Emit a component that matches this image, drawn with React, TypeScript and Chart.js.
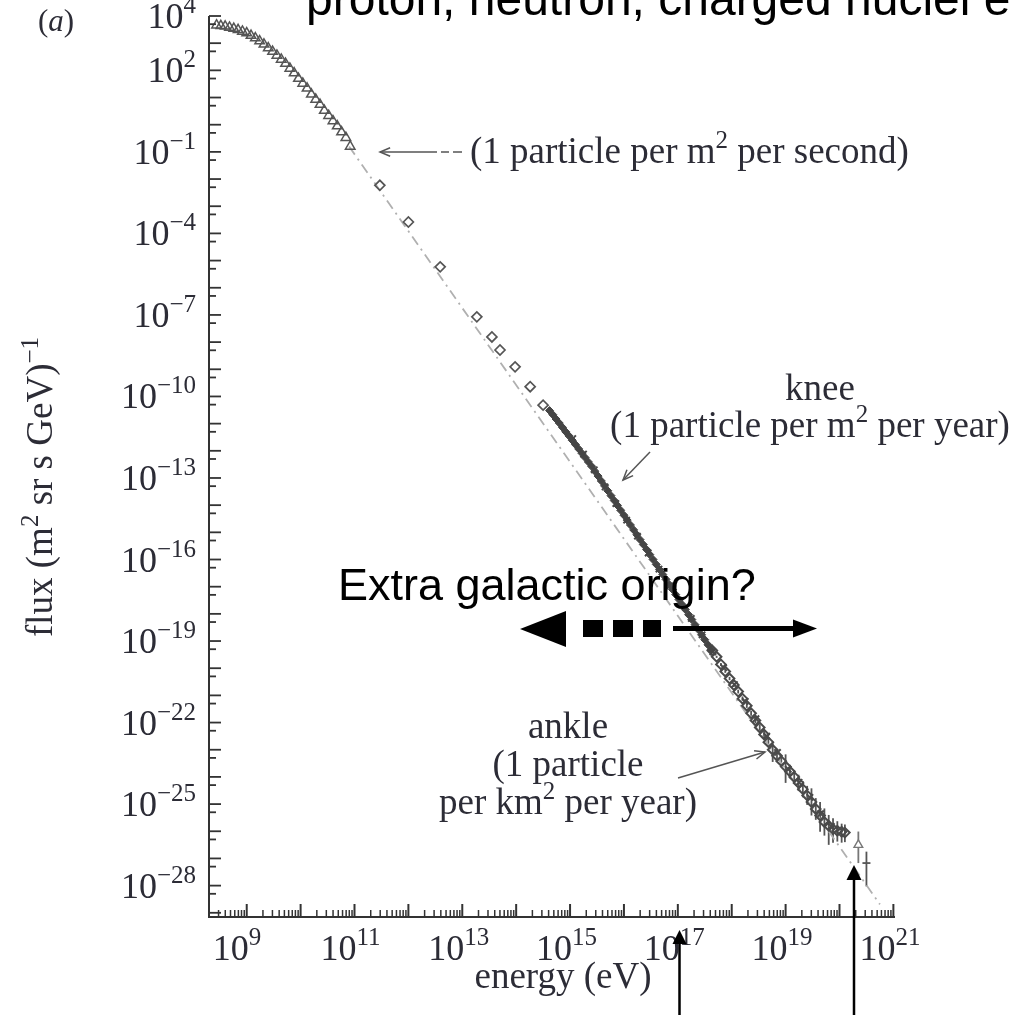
import React, { useEffect, useRef } from "react";
import { Chart, registerables } from "chart.js";

Chart.register(...registerables);

// ---- data (log10 of energy in eV, log10 of flux) ----
const triangleLogE = [8.44, 8.52, 8.6, 8.68, 8.76, 8.84, 8.92, 9.0, 9.08, 9.16, 9.24, 9.32, 9.4, 9.48, 9.56, 9.64, 9.72, 9.8, 9.88, 9.96, 10.04, 10.12, 10.2, 10.28, 10.36, 10.44, 10.52, 10.6, 10.68, 10.76, 10.84, 10.92];
const triangleLogFlux = [3.66, 3.64, 3.62, 3.58, 3.54, 3.49, 3.43, 3.37, 3.28, 3.19, 3.08, 2.96, 2.82, 2.69, 2.55, 2.4, 2.25, 2.07, 1.9, 1.7, 1.52, 1.34, 1.12, 0.93, 0.74, 0.52, 0.33, 0.14, -0.05, -0.27, -0.48, -0.8];

const diamondLogE = [11.47, 12.0, 12.59, 13.27, 13.55, 13.7, 13.98, 14.26, 14.5];
const diamondLogFlux = [-2.23, -3.58, -5.23, -7.07, -7.81, -8.29, -8.91, -9.64, -10.32];

const kneeLogE = [14.62, 14.68, 14.74, 14.8, 14.86, 14.92, 14.98, 15.04, 15.1, 15.16, 15.22, 15.28, 15.34, 15.4, 15.46, 15.52, 15.58, 15.64, 15.7, 15.76, 15.82, 15.88, 15.94, 16.0, 16.06, 16.12, 16.18, 16.24, 16.3, 16.36, 16.42, 16.48, 16.54, 16.6, 16.66, 16.72, 16.78, 16.84, 16.9, 16.96, 17.02, 17.08, 17.14, 17.2, 17.26, 17.32, 17.38, 17.44, 17.5, 17.56, 17.62];
const kneeLogFlux = [-10.52, -10.67, -10.83, -10.98, -11.14, -11.3, -11.45, -11.61, -11.77, -11.93, -12.09, -12.25, -12.41, -12.57, -12.75, -12.93, -13.11, -13.29, -13.47, -13.65, -13.83, -14.01, -14.19, -14.37, -14.55, -14.73, -14.91, -15.09, -15.27, -15.45, -15.63, -15.82, -16.0, -16.18, -16.37, -16.55, -16.73, -16.92, -17.1, -17.29, -17.47, -17.66, -17.84, -18.03, -18.21, -18.4, -18.58, -18.77, -18.95, -19.14, -19.32];

const showerLogE = [15.05, 15.25, 15.45, 15.65, 15.85, 16.05, 16.25, 16.45, 16.65, 16.85, 17.05, 17.25, 17.45, 17.65, 17.85, 18.05, 18.25, 18.45, 18.65, 18.85, 19.05, 19.25, 19.45, 19.65, 19.85];
const showerLogFlux = [-11.55, -12.12, -12.7, -13.33, -13.94, -14.55, -15.14, -15.76, -16.35, -16.97, -17.55, -18.17, -18.77, -19.4, -19.98, -20.6, -21.22, -21.86, -22.5, -23.1, -23.72, -24.2, -24.75, -25.35, -25.82];

const uheLogE = [17.64, 17.72, 17.8, 17.88, 17.96, 18.04, 18.12, 18.2, 18.28, 18.36, 18.44, 18.52, 18.6, 18.68, 18.76, 18.84, 18.92, 19.0, 19.08, 19.16, 19.24, 19.32, 19.4, 19.48, 19.56, 19.64, 19.72, 19.8, 19.88, 19.96, 20.04, 20.1];
const uheLogFlux = [-19.35, -19.58, -19.86, -20.12, -20.38, -20.62, -20.86, -21.12, -21.38, -21.66, -21.92, -22.18, -22.44, -22.72, -23.0, -23.22, -23.42, -23.62, -23.8, -24.0, -24.22, -24.45, -24.68, -24.92, -25.18, -25.42, -25.66, -25.8, -25.92, -25.98, -26.02, -26.05];
const uheErrDown = [0.04, 0.04, 0.05, 0.05, 0.06, 0.07, 0.07, 0.08, 0.08, 0.09, 0.1, 0.12, 0.14, 0.16, 0.45, 0.2, 0.2, 0.6, 0.25, 0.25, 0.3, 0.3, 0.35, 0.5, 0.4, 0.6, 0.5, 0.7, 0.5, 0.4, 0.4, 0.35];
const uheErrUp = [0.04, 0.04, 0.05, 0.05, 0.06, 0.07, 0.07, 0.08, 0.08, 0.09, 0.1, 0.12, 0.14, 0.16, 0.3, 0.2, 0.2, 0.45, 0.25, 0.25, 0.3, 0.3, 0.35, 0.5, 0.4, 0.5, 0.5, 0.4, 0.4, 0.35, 0.3, 0.3];

const topTriangleLogE = [20.35];
const topTriangleLogFlux = [-26.5];
const topTriangleErrDown = [0.67];
const topTriangleErrUp = [0.49];

const topBarLogE = [20.5];
const topBarLogFlux = [-27.17];
const topBarErrDown = [0.86];
const topBarErrUp = [0.42];

const fitLogE = [10.9, 20.75];
const fitLogFlux = [-0.8, -28.69];

// ---- axes ----
const xMinExp = 8.3;
const xMaxExp = 21.03;
const yMinExp = -29.14;
const yMaxExp = 4;
const yTickLabelExps = [4, 2, -1, -4, -7, -10, -13, -16, -19, -22, -25, -28];
const xTickLabelExps = [9, 11, 13, 15, 17, 19, 21];

const SERIF = '"Liberation Serif", "DejaVu Serif", serif';
const SANS = '"Liberation Sans", Arial, sans-serif';
const TEXT_COLOR = "#2c2c36";
const MARK = "#555555";

const pts = (le: number[], lf: number[]) =>
  le.map((e, i) => ({ x: Math.pow(10, e), y: Math.pow(10, lf[i]) }));

const expStr = (n: number) => (n < 0 ? "\u2212" + Math.abs(n) : String(n));

type Part = { t: string; size: number; dy?: number; italic?: boolean; family?: string };

function fontOf(p: Part) {
  return `${p.italic ? "italic " : ""}${p.size}px ${p.family || SERIF}`;
}
function richWidth(ctx: CanvasRenderingContext2D, parts: Part[]) {
  let w = 0;
  for (const p of parts) {
    ctx.font = fontOf(p);
    w += ctx.measureText(p.t).width;
  }
  return w;
}
function drawRich(ctx: CanvasRenderingContext2D, parts: Part[], x: number, y: number, align: "left" | "center" | "right") {
  const w = richWidth(ctx, parts);
  let cx = align === "center" ? x - w / 2 : align === "right" ? x - w : x;
  ctx.textAlign = "left";
  ctx.textBaseline = "alphabetic";
  for (const p of parts) {
    ctx.font = fontOf(p);
    ctx.fillText(p.t, cx, y + (p.dy || 0));
    cx += ctx.measureText(p.t).width;
  }
}

function openArrow(ctx: CanvasRenderingContext2D, x1: number, y1: number, x2: number, y2: number) {
  ctx.beginPath();
  ctx.moveTo(x1, y1);
  ctx.lineTo(x2, y2);
  ctx.stroke();
  const a = Math.atan2(y2 - y1, x2 - x1);
  const L = 11;
  const s = 0.4;
  ctx.beginPath();
  ctx.moveTo(x2 - L * Math.cos(a - s), y2 - L * Math.sin(a - s));
  ctx.lineTo(x2, y2);
  ctx.lineTo(x2 - L * Math.cos(a + s), y2 - L * Math.sin(a + s));
  ctx.stroke();
}

function filledHead(ctx: CanvasRenderingContext2D, tipX: number, tipY: number, baseX: number, baseY: number, half: number) {
  const a = Math.atan2(tipY - baseY, tipX - baseX);
  const nx = -Math.sin(a);
  const ny = Math.cos(a);
  ctx.beginPath();
  ctx.moveTo(tipX, tipY);
  ctx.lineTo(baseX + nx * half, baseY + ny * half);
  ctx.lineTo(baseX - nx * half, baseY - ny * half);
  ctx.closePath();
  ctx.fill();
}

const errorBarPlugin = {
  id: "errorBars",
  beforeDatasetsDraw(chart: any) {
    const { ctx } = chart;
    const xs = chart.scales.x;
    const ys = chart.scales.y;
    ctx.save();
    chart.data.datasets.forEach((ds: any) => {
      if (!ds.errDown) return;
      ctx.strokeStyle = ds.errColor || MARK;
      ctx.lineWidth = 1.8;
      ds.logE.forEach((e: number, i: number) => {
        const px = xs.getPixelForValue(Math.pow(10, e));
        const y1 = ys.getPixelForValue(Math.pow(10, ds.logF[i] - ds.errDown[i]));
        const y2 = ys.getPixelForValue(Math.pow(10, ds.logF[i] + ds.errUp[i]));
        ctx.beginPath();
        ctx.moveTo(px, y1);
        ctx.lineTo(px, y2);
        ctx.stroke();
      });
    });
    ctx.restore();
  },
};

const decorPlugin = {
  id: "decor",
  afterDraw(chart: any) {
    const { ctx, chartArea } = chart;
    const { left, right, top, bottom } = chartArea;
    const xs = chart.scales.x;
    const ys = chart.scales.y;
    ctx.save();

    // axis lines
    ctx.strokeStyle = "#333";
    ctx.lineWidth = 2;
    ctx.beginPath();
    ctx.moveTo(left, top);
    ctx.lineTo(left, bottom);
    ctx.lineTo(right, bottom);
    ctx.stroke();

    // y ticks (decades long, half-decade short)
    ctx.lineWidth = 1.8;
    for (let n = Math.ceil(yMinExp); n <= Math.floor(yMaxExp); n++) {
      const py = ys.getPixelForValue(Math.pow(10, n));
      ctx.beginPath();
      ctx.moveTo(left, py);
      ctx.lineTo(left + 12, py);
      ctx.stroke();
      const v = 5 * Math.pow(10, n - 1);
      if (Math.log10(v) >= yMinExp) {
        const pm = ys.getPixelForValue(v);
        ctx.beginPath();
        ctx.moveTo(left, pm);
        ctx.lineTo(left + 7, pm);
        ctx.stroke();
      }
    }
    // x ticks
    for (let n = Math.floor(xMinExp); n <= Math.floor(xMaxExp); n++) {
      for (let k = 1; k <= 9; k++) {
        const lv = n + Math.log10(k);
        if (lv < xMinExp - 1e-6 || lv > xMaxExp) continue;
        const px = xs.getPixelForValue(k * Math.pow(10, n));
        ctx.lineWidth = k === 1 ? 2 : 1.5;
        ctx.beginPath();
        ctx.moveTo(px, bottom);
        ctx.lineTo(px, bottom - (k === 1 ? 13 : 7));
        ctx.stroke();
      }
    }

    ctx.fillStyle = TEXT_COLOR;
    // y tick labels
    for (const n of yTickLabelExps) {
      const py = ys.getPixelForValue(Math.pow(10, n));
      drawRich(ctx, [
        { t: "10", size: 36 },
        { t: expStr(n), size: 25, dy: -15 },
      ], 196, py + 12, "right");
    }
    // x tick labels
    for (const n of xTickLabelExps) {
      const px = xs.getPixelForValue(Math.pow(10, n));
      ctx.font = fontOf({ t: "", size: 36 });
      const w10 = ctx.measureText("10").width;
      drawRich(ctx, [
        { t: "10", size: 36 },
        { t: expStr(n), size: 25, dy: -15 },
      ], px - w10 + 2, 960, "left");
    }

    // axis titles
    drawRich(ctx, [{ t: "energy (eV)", size: 37 }], 563, 988, "center");
    ctx.save();
    ctx.translate(52, 487);
    ctx.rotate(-Math.PI / 2);
    drawRich(ctx, [
      { t: "flux (m", size: 37 },
      { t: "2", size: 25, dy: -14 },
      { t: " sr s GeV)", size: 37 },
      { t: "\u22121", size: 25, dy: -14 },
    ], 0, 0, "center");
    ctx.restore();

    // panel label
    drawRich(ctx, [
      { t: "(", size: 31 },
      { t: "a", size: 31, italic: true },
      { t: ")", size: 31 },
    ], 38, 31, "left");

    // annotations
    drawRich(ctx, [
      { t: "(1 particle per m", size: 37 },
      { t: "2", size: 25, dy: -15 },
      { t: " per second)", size: 37 },
    ], 470, 163, "left");
    drawRich(ctx, [{ t: "knee", size: 37 }], 820, 400, "center");
    drawRich(ctx, [
      { t: "(1 particle per m", size: 37 },
      { t: "2", size: 25, dy: -15 },
      { t: " per year)", size: 37 },
    ], 810, 437, "center");
    drawRich(ctx, [{ t: "ankle", size: 37 }], 568, 738, "center");
    drawRich(ctx, [{ t: "(1 particle", size: 37 }], 568, 776, "center");
    drawRich(ctx, [
      { t: "per km", size: 37 },
      { t: "2", size: 25, dy: -15 },
      { t: " per year)", size: 37 },
    ], 568, 814, "center");

    // thin annotation arrows
    ctx.strokeStyle = "#555";
    ctx.lineWidth = 1.5;
    openArrow(ctx, 437, 152, 380, 152);
    ctx.beginPath();
    ctx.moveTo(441, 152);
    ctx.lineTo(449, 152);
    ctx.moveTo(453, 152);
    ctx.lineTo(462, 152);
    ctx.stroke();
    openArrow(ctx, 650, 452, 623, 480);
    openArrow(ctx, 678, 778, 765, 752);

    // big sans texts
    ctx.fillStyle = "#000";
    drawRich(ctx, [{ t: "proton, neutron, charged nuclei e", size: 48, family: SANS }], 306, 15, "left");
    drawRich(ctx, [{ t: "Extra galactic origin?", size: 45, family: SANS }], 338, 600, "left");

    // double arrow (dashed part + solid part)
    filledHead(ctx, 520, 629, 566, 629, 18);
    ctx.fillRect(583, 620, 20, 17);
    ctx.fillRect(613, 620, 20, 17);
    ctx.fillRect(643, 620, 18, 17);
    ctx.fillRect(673, 626, 122, 5);
    filledHead(ctx, 817, 628.5, 793, 628.5, 9);

    // vertical black arrows at the bottom
    ctx.strokeStyle = "#000";
    ctx.lineWidth = 2.5;
    ctx.beginPath();
    ctx.moveTo(679.5, 1015);
    ctx.lineTo(679.5, 940);
    ctx.moveTo(854, 1015);
    ctx.lineTo(854, 876);
    ctx.stroke();
    filledHead(ctx, 679.5, 930, 679.5, 944, 7);
    filledHead(ctx, 854, 865, 854, 880, 7.5);

    ctx.restore();
  },
};

export default function App() {
  const ref = useRef<HTMLCanvasElement>(null);

  useEffect(() => {
    if (!ref.current) return;
    const chart = new Chart(ref.current, {
      type: "scatter",
      data: {
        datasets: [
          {
            label: "fit",
            data: pts(fitLogE, fitLogFlux),
            showLine: true,
            borderColor: "#b0b0b0",
            borderWidth: 1.8,
            borderDash: [10, 5, 2, 5],
            pointRadius: 0,
            order: 10,
          },
          {
            label: "low energy",
            data: pts(triangleLogE, triangleLogFlux),
            pointStyle: "triangle",
            pointRadius: 5.5,
            borderColor: MARK,
            backgroundColor: "rgba(255,255,255,0)",
            borderWidth: 1.5,
            order: 1,
          },
          {
            label: "direct",
            data: pts(diamondLogE, diamondLogFlux),
            pointStyle: "rectRot",
            pointRadius: 5,
            borderColor: MARK,
            backgroundColor: "rgba(255,255,255,0)",
            borderWidth: 1.7,
            order: 1,
          },
          {
            label: "knee",
            data: pts(kneeLogE, kneeLogFlux),
            pointStyle: "rectRot",
            pointRadius: 4,
            borderColor: "#454545",
            backgroundColor: "#454545",
            borderWidth: 1,
            order: 1,
          },
          {
            label: "air showers",
            data: pts(showerLogE, showerLogFlux),
            pointStyle: "crossRot",
            pointRadius: 4.5,
            borderColor: "#4a4a4a",
            borderWidth: 2,
            order: 1,
          },
          {
            label: "uhe",
            data: pts(uheLogE, uheLogFlux),
            logE: uheLogE,
            logF: uheLogFlux,
            errDown: uheErrDown,
            errUp: uheErrUp,
            pointStyle: "rectRot",
            pointRadius: 4.8,
            borderColor: "#4a4a4a",
            backgroundColor: "rgba(255,255,255,0)",
            borderWidth: 2,
            order: 1,
          } as any,
          {
            label: "top triangle",
            data: pts(topTriangleLogE, topTriangleLogFlux),
            logE: topTriangleLogE,
            logF: topTriangleLogFlux,
            errDown: topTriangleErrDown,
            errUp: topTriangleErrUp,
            errColor: "#777",
            pointStyle: "triangle",
            pointRadius: 5,
            borderColor: "#777",
            backgroundColor: "#fff",
            borderWidth: 1.4,
            order: 1,
          } as any,
          {
            label: "top bar",
            data: pts(topBarLogE, topBarLogFlux),
            logE: topBarLogE,
            logF: topBarLogFlux,
            errDown: topBarErrDown,
            errUp: topBarErrUp,
            pointStyle: "line",
            pointRadius: 4,
            borderColor: "#555",
            borderWidth: 1.8,
            order: 1,
          } as any,
        ],
      },
      options: {
        animation: false,
        responsive: false,
        maintainAspectRatio: false,
        events: [],
        layout: { padding: { left: 209, right: 124, top: 16, bottom: 98 } },
        plugins: { legend: { display: false }, tooltip: { enabled: false } },
        scales: {
          x: {
            type: "logarithmic",
            display: false,
            min: Math.pow(10, xMinExp),
            max: Math.pow(10, xMaxExp),
          },
          y: {
            type: "logarithmic",
            display: false,
            min: Math.pow(10, yMinExp),
            max: Math.pow(10, yMaxExp),
          },
        },
      },
      plugins: [errorBarPlugin, decorPlugin],
    });
    return () => chart.destroy();
  }, []);

  return (
    <div style={{ position: "absolute", left: 0, top: 0, width: 1019, height: 1015, background: "#fff" }}>
      <canvas ref={ref} width={1019} height={1015} style={{ display: "block", width: 1019, height: 1015 }} />
    </div>
  );
}
